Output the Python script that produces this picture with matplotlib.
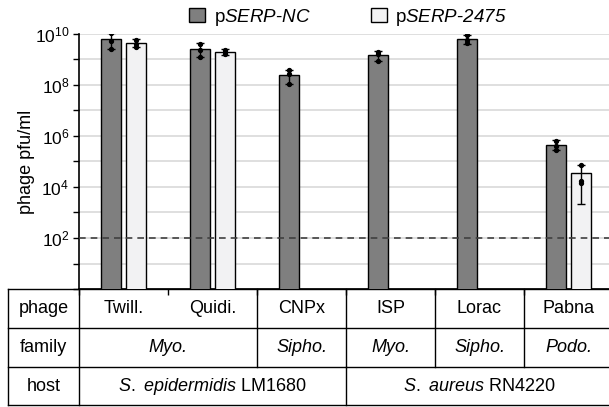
import numpy as np
import matplotlib
matplotlib.use('Agg')
import matplotlib.pyplot as plt
from matplotlib.patches import Patch
import matplotlib.transforms as mtransforms

plt.rcParams['font.family'] = 'Liberation Sans'
plt.rcParams['mathtext.fontset'] = 'custom'
plt.rcParams['mathtext.rm'] = 'Liberation Sans'
plt.rcParams['mathtext.it'] = 'Liberation Sans:italic'
plt.rcParams['mathtext.sf'] = 'Liberation Sans:italic'   # italic digits too
plt.rcParams['mathtext.default'] = 'regular'

# Data
phages = ['Twill.', 'Quidi.', 'CNPx', 'ISP', 'Lorac', 'Pabna']

nc_mean = [6.3e9, 2.6e9, 2.5e8, 1.5e9, 6.2e9, 4.3e5]
nc_lo   = [2.6e9, 1.3e9, 1.1e8, 0.85e9, 4.2e9, 2.8e5]
nc_hi   = [1.1e10, 4.3e9, 3.9e8, 2.1e9, 9.3e9, 6.9e5]
nc_pts  = [[1.1e10, 5.5e9, 2.6e9], [4.2e9, 2.4e9, 1.3e9], [3.8e8, 2.6e8, 1.1e8],
           [2.0e9, 1.6e9, 0.9e9], [8.8e9, 6.0e9, 4.4e9], [6.5e5, 4.0e5, 2.9e5]]

kd_mean = [4.3e9, 1.96e9, None, None, None, 3.7e4]
kd_lo   = [3.1e9, 1.45e9, None, None, None, 2.1e3]
kd_hi   = [6.2e9, 2.5e9, None, None, None, 7.4e4]
kd_pts  = [[6.0e9, 4.0e9, 3.2e9], [2.4e9, 1.9e9, 1.6e9], None, None, None,
           [7.4e4, 1.75e4, 1.4e4]]

families     = ['Myo.', 'Sipho.', 'Myo.', 'Sipho.', 'Podo.']
family_spans = [2, 1, 1, 1, 1]
hosts        = [r'$\mathit{S.\ epidermidis}$ LM1680', r'$\mathit{S.\ aureus}$ RN4220']
host_spans   = [3, 3]
row_names    = ['phage', 'family', 'host']
detect_limit = 1e2

legend_labels = [r'p$\mathsf{SERP}$-$\mathsf{NC}$', r'p$\mathsf{SERP}$-$\mathsf{2475}$']
dark_col  = '#7f7f7f'
light_col = '#f2f2f3'

W, H = 609, 407
fig = plt.figure(figsize=(W / 100, H / 100), dpi=100)
# axes in pixel layout: y-axis at x=79, bottom at y=289, top at y=34, 89 px per category
ax = fig.add_axes([79 / W, (H - 289) / H, 534 / W, 255 / H])

ax.set_yscale('log')
ax.set_ylim(1, 1e10)
ax.set_xlim(0, len(phages))

bw = 0.225
off = 0.14
x = np.arange(len(phages)) + 0.5

for i in range(len(phages)):
    xi = x[i] - off
    ax.bar(xi, nc_mean[i], width=bw, color=dark_col, edgecolor='k', linewidth=1.0, zorder=3)
    ax.errorbar(xi, nc_mean[i], yerr=[[nc_mean[i] - nc_lo[i]], [nc_hi[i] - nc_mean[i]]],
                fmt='none', ecolor='k', elinewidth=1.0, capsize=3, capthick=1.0, zorder=4)
    ax.plot([xi] * len(nc_pts[i]), nc_pts[i], 'o', ms=2.8, color='k', zorder=5)
    if kd_mean[i] is not None:
        xi = x[i] + off
        ax.bar(xi, kd_mean[i], width=bw, color=light_col, edgecolor='k', linewidth=1.0, zorder=3)
        ax.errorbar(xi, kd_mean[i], yerr=[[kd_mean[i] - kd_lo[i]], [kd_hi[i] - kd_mean[i]]],
                    fmt='none', ecolor='k', elinewidth=1.0, capsize=3, capthick=1.0, zorder=4)
        ax.plot([xi] * len(kd_pts[i]), kd_pts[i], 'o', ms=2.8, color='k', zorder=5)

# detection limit
ax.axhline(detect_limit, color='#404040', lw=1.2, ls=(0, (4, 3)), zorder=6)

# y ticks
yt = [10.0 ** k for k in range(0, 11)]
ylabs = ['10$^{%d}$' % k if (k % 2 == 0 and k > 0) else '' for k in range(0, 11)]
ax.set_yticks(yt)
ax.set_yticklabels(ylabs, fontsize=12.5)
ax.yaxis.set_minor_locator(matplotlib.ticker.NullLocator())
ax.tick_params(axis='y', direction='out', length=4, width=1.0, pad=3)
ax.grid(axis='y', color='#d9d9d9', lw=1.2, zorder=0)
ax.set_axisbelow(True)

ax.set_xticks(np.arange(0, len(phages) + 1))
ax.set_xticklabels([])
ax.tick_params(axis='x', direction='out', length=4, width=1.0)

for s in ['top', 'right']:
    ax.spines[s].set_visible(False)
ax.spines['left'].set_linewidth(1.2)
ax.spines['bottom'].set_linewidth(1.2)

ax.set_ylabel('phage pfu/ml', fontsize=13)
ax.yaxis.set_label_coords(-0.082, 0.5)

# table under the axes
tr = mtransforms.blended_transform_factory(ax.transData, ax.transAxes)
rh = 39 / 255
left = -71 / 89
right = len(phages) + 0.2
rows_y = [0, -rh, -2 * rh, -3 * rh + 0.003]
lkw = dict(color='k', lw=1.0, transform=tr, clip_on=False)
for yy in rows_y:
    ax.plot([left, right], [yy, yy], **lkw)
ax.plot([left, left], [rows_y[0], rows_y[3]], **lkw)
ax.plot([0, 0], [rows_y[0], rows_y[3]], **lkw)

tkw = dict(transform=tr, ha='center', va='center', fontsize=13, clip_on=False)
for r, name in enumerate(row_names):
    ax.text(left / 2, -(r + 0.5) * rh, name, **tkw)

# phage row
for i, p in enumerate(phages):
    ax.text(x[i], -0.5 * rh, p, **tkw)
# family row
pos = 0
for f, sp in zip(families, family_spans):
    ax.text(pos + sp / 2, -1.5 * rh, f, style='italic', **tkw)
    pos += sp
    ax.plot([pos, pos], [rows_y[0], rows_y[2]], **lkw)
# host row
pos = 0
for h, sp in zip(hosts, host_spans):
    ax.text(pos + sp / 2, -2.5 * rh, h, **tkw)
    pos += sp
    ax.plot([pos, pos], [rows_y[2], rows_y[3]], **lkw)

# legend
handles = [Patch(facecolor=dark_col, edgecolor='k', lw=1.0),
           Patch(facecolor=light_col, edgecolor='k', lw=1.0)]
fig.legend(handles, legend_labels, loc='center', bbox_to_anchor=(348 / W, 1 - 17 / H),
           ncol=2, frameon=False, fontsize=13.5, handlelength=0.85, handleheight=0.85,
           handletextpad=0.45, columnspacing=3.2, borderpad=0)

fig.savefig('out.png', dpi=100)
